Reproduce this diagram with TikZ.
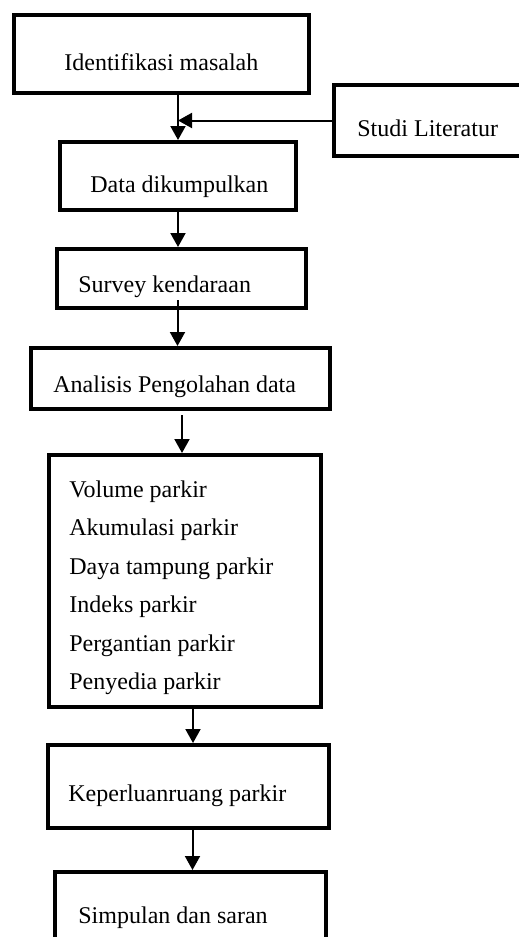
\documentclass[tikz,border=0pt]{standalone}
\usepackage{fontspec}
\setmainfont{Liberation Serif}
\usetikzlibrary{arrows.meta, calc}
\tikzset{
  box/.style={draw, line width=2pt, inner sep=0pt},
  txt/.style={font=\fontsize{12}{14}\selectfont, inner sep=0pt, anchor=base west},
  arr/.style={line width=1pt, -{Triangle[length=7pt, width=7.5pt]}}
}
\begin{document}
\begin{tikzpicture}[x=0.5pt, y=-0.5pt]
  \useasboundingbox (0,0) rectangle (519,937);
  \clip (0,0) rectangle (519,937);
  % boxes
  \node[box, minimum width=147.5pt, minimum height=39pt] (ident) at (161.5,54) {};
  \node[box, minimum width=113pt, minimum height=35.5pt] (studi) at (447,120.5) {};
  \node[box, minimum width=118pt, minimum height=34pt] (data) at (178,176) {};
  \node[box, minimum width=124.5pt, minimum height=29.5pt] (survey) at (181.5,278.5) {};
  \node[box, minimum width=149.5pt, minimum height=30.5pt] (analisis) at (180.5,378.5) {};
  \node[box, minimum width=136pt, minimum height=126pt] (list) at (185,581) {};
  \node[box, minimum width=140.5pt, minimum height=41.5pt] (keper) at (188.5,786.5) {};
  \node[box, minimum width=135.5pt, minimum height=49pt] (simpulan) at (190.5,921) {};
  % texts
  \node[txt] (identT) at (64,70) {Identifikasi masalah};
  \node[txt] (studiT) at (357,136) {Studi Literatur};
  \node[txt] (dataT) at (90,192) {Data dikumpulkan};
  \node[txt] (surveyT) at (78,292) {Survey kendaraan};
  \node[txt] (analisisT) at (53,392) {Analisis Pengolahan data};
  \foreach \lbl [count=\i from 0] in {Volume parkir, Akumulasi parkir,
      Daya tampung parkir, Indeks parkir, Pergantian parkir, Penyedia parkir}
    \node[txt] (listT\i) at (69,497+38.5*\i) {\lbl};
  \node[txt] (keperT) at (68,801) {Keperluanruang parkir};
  \node[txt] (simpulanT) at (78,923) {Simpulan dan saran};
  % arrows
  \draw[arr] (ident.south -| data.north) -- (data.north);
  \draw[arr] (studi.west) -- (studi.west -| data.north);
  \draw[arr] (data.south) -- (survey.north -| data.south);
  \draw[arr] ($(survey.south)+(-4,-10)$) -- ($(survey.south |- analisis.north)+(-4,0)$);
  \draw[arr] ($(analisis.south)+(1.5,4)$) -- ($(analisis.south |- list.north)+(1.5,0)$);
  \draw[arr] ($(list.south)+(8,0)$) -- ($(list.south |- keper.north)+(8,0)$);
  \draw[arr] ($(keper.south)+(4,0)$) -- ($(keper.south |- simpulan.north)+(4,0)$);
\end{tikzpicture}
\end{document}
